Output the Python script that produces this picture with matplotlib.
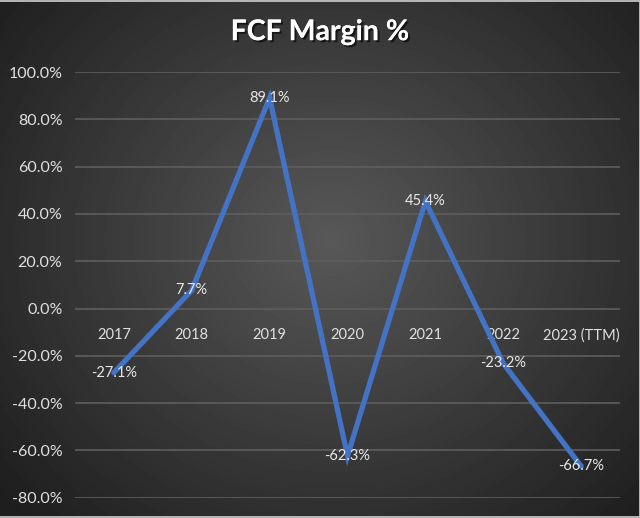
import numpy as np
import matplotlib
matplotlib.use("Agg")
import matplotlib.pyplot as plt
import matplotlib.patheffects as pe

years = ["2017", "2018", "2019", "2020", "2021", "2022", "2023 (TTM)"]
fcf_margin = [-27.1, 7.7, 89.1, -62.3, 45.4, -23.2, -66.7]
y_ticks = [-80, -60, -40, -20, 0, 20, 40, 60, 80, 100]

plt.rcParams["font.family"] = ["Lato", "DejaVu Sans"]

fig = plt.figure(figsize=(6.4, 5.18), dpi=100)

# radial gradient background
bg = fig.add_axes([0, 0, 1, 1], zorder=-10)
yy, xx = np.mgrid[0:518, 0:640]
r = np.sqrt(((xx - 330) / 420.0) ** 2 + ((yy - 240) / 380.0) ** 2)
shade = np.clip(0.345 - 0.22 * r, 0.12, 0.345)
bg.imshow(shade, cmap="gray", vmin=0, vmax=1, aspect="auto",
          extent=[0, 1, 0, 1], interpolation="bilinear")
bg.set_axis_off()
# thin light frame seen on the top, right and bottom edges
bg.plot([0, 1, 1, 0], [0.999, 0.999, 0.002, 0.002], color="#d0d0d0",
        linewidth=1.2, transform=bg.transAxes)
bg.set_xlim(0, 1)
bg.set_ylim(0, 1)

ax = fig.add_axes([0.117, 0.039, 0.852, 0.822])
ax.patch.set_alpha(0)

x = np.arange(len(years))
ax.plot(x, fcf_margin, color="#4472C4", linewidth=3.8, solid_capstyle="round",
        solid_joinstyle="miter", zorder=3)

for xi, v in zip(x, fcf_margin):
    ax.text(xi, v, f"{v:.1f}%", color="#e8e8e8", fontsize=10.5,
            ha="center", va="center", zorder=4)

ax.set_xlim(-0.5, len(years) - 0.5)
ax.set_ylim(-80, 100)
ax.set_yticks(y_ticks)
ax.set_yticklabels([f"{t:.1f}%" for t in y_ticks])
ax.yaxis.grid(True, color="#5e5e5e", linewidth=1.2)
ax.set_axisbelow(True)

ax.set_xticks(x)
ax.set_xticklabels(years)
for s in ["top", "right", "left"]:
    ax.spines[s].set_visible(False)
ax.spines["bottom"].set_position(("data", 0))
ax.spines["bottom"].set_visible(False)
ax.tick_params(axis="both", length=0, colors="#e0e0e0", labelsize=10.5)
ax.tick_params(axis="y", labelsize=11.5, pad=9)
ax.tick_params(axis="x", pad=14)

fig.text(0.5, 0.938, "FCF Margin %", color="white", fontsize=20.5,
         fontweight="bold", ha="center", va="center",
         path_effects=[pe.withSimplePatchShadow(offset=(1.5, -1.5),
                                                shadow_rgbFace="black", alpha=0.6),
                       pe.Normal()])

fig.savefig("out.png", dpi=100)
